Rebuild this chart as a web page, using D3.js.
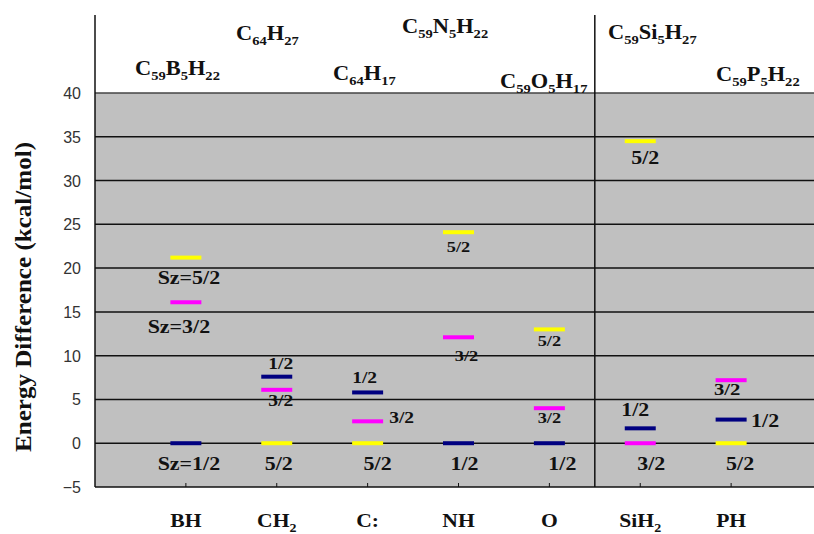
<!DOCTYPE html>
<head>
<meta charset="utf-8">
<title>Spin state energy differences</title>
<script src="https://d3js.org/d3.v7.min.js"></script>
<style>
  body { margin: 0; background: #fff; }
  svg text { font-family: "Times New Roman", "Liberation Serif", "DejaVu Serif", serif; font-weight: bold; fill: #111; }
  svg text.ytick { font-family: "Liberation Sans", Arial, sans-serif; font-weight: normal; fill: #333; font-size: 16px; }
</style>
</head>
<body>
<svg width="814" height="534"></svg>
<script>
// categories (substituent) and the formula of each structure
const categories = ["BH", "CH2", "C:", "NH", "O", "SiH2", "PH"];
const formulas = ["C59B5H22", "C64H27", "C64H17", "C59N5H22", "C59O5H17", "C59Si5H27", "C59P5H22"];

// energy relative to ground state, kcal/mol
const sz12 = [0, 7.6, 5.8, 0, 0, 1.7, 2.7];
const sz32 = [16.1, 6.1, 2.5, 12.1, 4.0, 0, 7.2];
const sz52 = [21.2, 0, 0, 24.1, 13.0, 34.5, 0];

const yTicks = [-5, 0, 5, 10, 15, 20, 25, 30, 35, 40];

// label placement, [dx, dy, size] per bar (layout only)
const lab12 = [[3, 27, 18], [4, -8, 16], [-3, -9, 16], [6, 27, 18], [13, 27, 18], [-5, -12, 18], [34, 7, 18]];
const lab32 = [[-7, 31, 18], [4, 16, 16], [34, 2, 16], [8, 24, 15], [0, 15, 15], [11, 27, 18], [-4, 15, 17]];
const lab52 = [[3, 26, 18], [2, 27, 18], [10, 27, 18], [0, 20, 15], [0, 17, 15], [5, 23, 18], [9, 27, 18]];
const formulaPos = [[135, 75], [236, 40], [333, 80], [402, 33], [500, 88], [608, 39], [716, 81]];

const svg = d3.select("svg");
const x = d3.scaleLinear().domain([0, 8]).range([95, 822]);
const y = d3.scaleLinear().domain([-5, 40]).range([487, 93]);
const SX = 1.22;
const SERIF = '"Times New Roman", "Liberation Serif", serif';

// plot background
svg.append("rect")
  .attr("x", x(0)).attr("y", y(40))
  .attr("width", x(8) - x(0)).attr("height", y(-5) - y(40))
  .attr("fill", "#c0c0c0");

// gridlines
svg.append("g").selectAll("line")
  .data(yTicks)
  .join("line")
  .attr("x1", x(0)).attr("x2", x(8))
  .attr("y1", d => y(d)).attr("y2", d => y(d))
  .attr("stroke", d => d == 40 ? "#444" : "#111")
  .attr("stroke-width", 1.5);

// left border and top extension, divider
svg.append("line").attr("x1", x(0)).attr("x2", x(0)).attr("y1", 15).attr("y2", y(-5))
  .attr("stroke", "#111").attr("stroke-width", 1.5);
svg.append("line").attr("x1", x(5.5)).attr("x2", x(5.5)).attr("y1", 15).attr("y2", y(-5))
  .attr("stroke", "#111").attr("stroke-width", 1.5);

// x ticks (inside)
svg.append("g").selectAll("line")
  .data(categories)
  .join("line")
  .attr("x1", (d, i) => x(i + 1)).attr("x2", (d, i) => x(i + 1))
  .attr("y1", y(-5)).attr("y2", y(-5) - 4)
  .attr("stroke", "#111");

// y tick labels
svg.append("g").selectAll("text")
  .data(yTicks)
  .join("text")
  .attr("class", "ytick")
  .attr("x", 81).attr("y", d => y(d) + 6)
  .attr("text-anchor", "end")
  .text(d => d < 0 ? "\u2212" + (-d) : d);

// y axis title
svg.append("text")
  .attr("transform", "translate(31,297) rotate(-90)")
  .attr("text-anchor", "middle")
  .attr("font-family", SERIF)
  .attr("font-size", 23)
  .attr("textLength", 310)
  .attr("lengthAdjust", "spacingAndGlyphs")
  .text("Energy Difference (kcal/mol)");

// text with digits as subscripts
function chem(g, str, size, sx) {
  const t = g.append("text").attr("font-size", size)
    .attr("font-family", SERIF)
    .attr("transform", "scale(" + sx + ",1)");
  const parts = str.match(/\d+|[^\d]+/g);
  let sub = false;
  parts.forEach(p => {
    const isNum = /^\d+$/.test(p);
    const ts = t.append("tspan").text(p);
    if (isNum && !sub) { ts.attr("font-size", size * 0.65).attr("dy", size * 0.25); sub = true; }
    else if (!isNum && sub) { ts.attr("dy", -size * 0.25); sub = false; }
  });
  return t;
}

// formulas on top
formulas.forEach((f, i) => {
  const g = svg.append("g").attr("transform", "translate(" + formulaPos[i][0] + "," + formulaPos[i][1] + ")");
  chem(g, f, 20, 1.12);
});

// category labels
categories.forEach((c, i) => {
  const g = svg.append("g").attr("transform", "translate(" + x(i + 1) + ",527)");
  chem(g, c, 18, 1.2).attr("text-anchor", "middle");
});

// bars
const series = [
  { vals: sz12, color: "#000080", lab: lab12, name: "1/2" },
  { vals: sz32, color: "#ff00ff", lab: lab32, name: "3/2" },
  { vals: sz52, color: "#ffff00", lab: lab52, name: "5/2" }
];
const bw = 31, bh = 4;

series.forEach(s => {
  const g = svg.append("g");
  g.selectAll("rect")
    .data(s.vals)
    .join("rect")
    .attr("x", (d, i) => x(i + 1) - bw / 2)
    .attr("y", d => y(d) - bh / 2)
    .attr("width", bw).attr("height", bh)
    .attr("fill", s.color);

  g.selectAll("text")
    .data(s.vals)
    .join("text")
    .attr("transform", (d, i) => "translate(" + (x(i + 1) + s.lab[i][0]) + "," + (y(d) + s.lab[i][1]) + ") scale(" + SX + ",1)")
    .attr("text-anchor", "middle")
    .attr("font-family", SERIF)
    .attr("font-size", (d, i) => s.lab[i][2])
    .text((d, i) => (i == 0 ? "Sz=" : "") + s.name);
});
</script>
</body>
